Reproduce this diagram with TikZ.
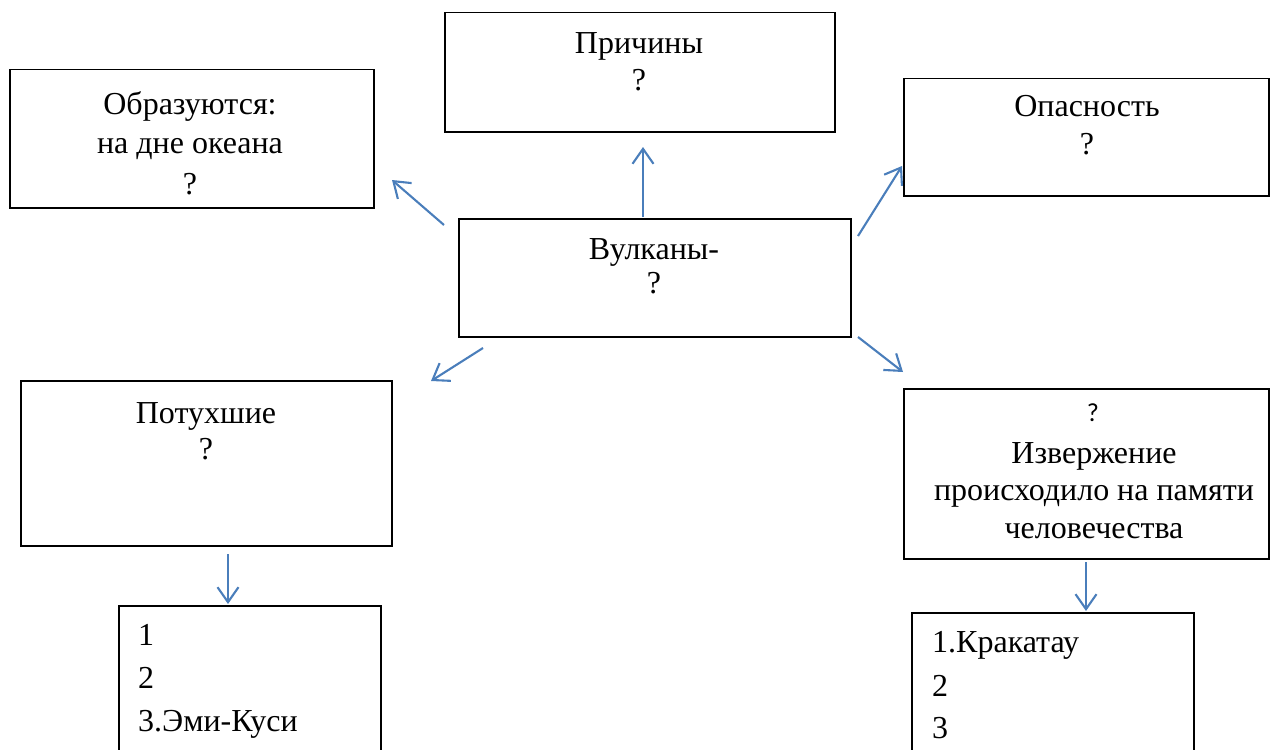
\documentclass[tikz,border=0pt]{standalone}
\usepackage{fontspec}
\setmainfont{Liberation Serif}
\newfontfamily\qfont{Carlito}
\usetikzlibrary{arrows.meta}
\definecolor{arrowblue}{HTML}{4A7EBB}
\begin{document}
\begin{tikzpicture}[x=1pt,y=-1pt,
  box/.style={draw=black,line width=1.5pt,anchor=north west,inner sep=0pt},
  conn/.style={draw=arrowblue,line width=2.1pt,-{Straight Barb[length=15pt,width=21pt,line width=2.1pt]}},
  txt/.style={anchor=base,inner sep=0pt,font=\fontsize{32}{36}\selectfont},
  ltxt/.style={anchor=base west,inner sep=0pt,font=\fontsize{32}{36}\selectfont}]
\useasboundingbox (0,0) rectangle (1281,749);
\clip (0,0) rectangle (1281,749);
% boxes
\node[box,minimum width=364pt,minimum height=138pt] (obr) at (9,69) {};
\node[box,minimum width=390pt,minimum height=119pt] (pri) at (444,12) {};
\node[box,minimum width=365pt,minimum height=117pt] (opa) at (903,78) {};
\node[box,minimum width=392pt,minimum height=118pt] (vul) at (458,218) {};
\node[box,minimum width=371pt,minimum height=165pt] (pot) at (20,380) {};
\node[box,minimum width=365pt,minimum height=170pt] (izv) at (903,388) {};
\node[box,minimum width=262pt,minimum height=170pt] (lstl) at (118,605) {};
\node[box,minimum width=282pt,minimum height=170pt] (lstr) at (911,612) {};
% texts
\node[txt] (t1a) at (190,114) {Образуются:};
\node[txt] (t1b) at (190,153) {на дне океана};
\node[txt] (t1c) at (190,194) {?};
\node[txt] (t2a) at (639,54) {Причины};
\node[txt] (t2b) at (639,91) {?};
\node[txt] (t3a) at (1087,117) {Опасность};
\node[txt] (t3b) at (1087,154) {?};
\node[txt] (t4a) at (654,259) {Вулканы-};
\node[txt] (t4b) at (654,293) {?};
\node[txt] (t5a) at (206,423) {Потухшие};
\node[txt] (t5b) at (206,459) {?};
\node[anchor=base,inner sep=0pt,font=\qfont\fontsize{26}{30}\selectfont] (t6a) at (1093,421) {?};
\node[txt] (t6b) at (1094,463) {Извержение};
\node[txt] (t6c) at (1094,500) {происходило на памяти};
\node[txt] (t6d) at (1094,538) {человечества};
\node[ltxt] (l1) at (138,645) {1};
\node[ltxt] (l2) at (138,688) {2};
\node[ltxt] (l3) at (138,731) {3.Эми-Куси};
\node[ltxt] (r1) at (932,652) {1.Кракатау};
\node[ltxt] (r2) at (932,696) {2};
\node[ltxt] (r3) at (932,738) {3};
% connectors
\coordinate (a1s) at (444,225); \coordinate (a1e) at (392,180);
\coordinate (a2s) at (643,217); \coordinate (a2e) at (643,147);
\coordinate (a3s) at (858,236); \coordinate (a3e) at (902,166);
\coordinate (a4s) at (858,337); \coordinate (a4e) at (903,372);
\coordinate (a5s) at (483,348); \coordinate (a5e) at (431,381);
\coordinate (a6s) at (228,554); \coordinate (a6e) at (228,604);
\coordinate (a7s) at (1086,562); \coordinate (a7e) at (1086,611);
\draw[conn] (a1s) -- (a1e);
\draw[conn] (a2s) -- (a2e);
\draw[conn] (a3s) -- (a3e);
\draw[conn] (a4s) -- (a4e);
\draw[conn] (a5s) -- (a5e);
\draw[conn] (a6s) -- (a6e);
\draw[conn] (a7s) -- (a7e);
\end{tikzpicture}
\end{document}
